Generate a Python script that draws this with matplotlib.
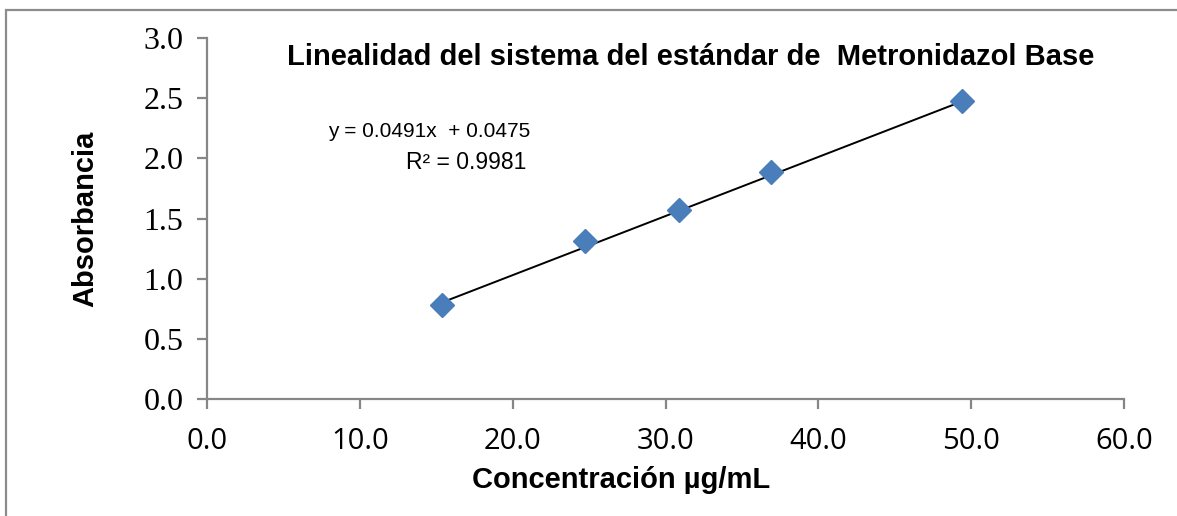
import matplotlib.pyplot as plt
from matplotlib.patches import Rectangle
import numpy as np

# standard curve readings
conc = [15.4, 24.7, 30.9, 36.9, 49.4]
absorb = [0.78, 1.31, 1.57, 1.89, 2.48]
slope = 0.0491
intercept = 0.0475
r2 = 0.9981

xticks = [0, 10, 20, 30, 40, 50, 60]
yticks = [0.0, 0.5, 1.0, 1.5, 2.0, 2.5, 3.0]

fig = plt.figure(figsize=(11.77, 5.16), dpi=100)
ax = fig.add_axes([0.1759, 0.2267, 0.955 - 0.1759, 0.9264 - 0.2267])

gray = '#868686'

# chart frame (runs off the right and bottom edges)
fig.add_artist(Rectangle((6 / 1177, -0.05), 1.2, (516 - 10) / 516 + 0.05,
                         transform=fig.transFigure, fill=False,
                         edgecolor='#8c8c8c', linewidth=1.6))

# trendline from first to last point
xf = np.array([conc[0], conc[-1]])
ax.plot(xf, slope * xf + intercept, color='black', linewidth=1.4, zorder=2)
ax.plot(conc, absorb, linestyle='none', marker='D', markersize=12,
        color='#4a7ebb', markeredgecolor='#4a7ebb', zorder=3)

ax.set_xlim(0, 60)
ax.set_ylim(0, 3.0)
ax.set_xticks(xticks)
ax.set_yticks(yticks)
ax.set_xticklabels(['%.1f' % v for v in xticks], family='Open Sans', fontsize=21)
ax.set_yticklabels(['%.1f' % v for v in yticks], family='Liberation Serif', fontsize=23)

for s in ['top', 'right']:
    ax.spines[s].set_visible(False)
for s in ['left', 'bottom']:
    ax.spines[s].set_color(gray)
    ax.spines[s].set_linewidth(1.6)
ax.tick_params(axis='both', direction='out', length=7, width=1.6, color=gray)
ax.tick_params(axis='x', pad=13)
ax.tick_params(axis='y', pad=10)

ax.set_xlabel('Concentración µg/mL', family='Liberation Sans', fontweight='bold',
              fontsize=21, labelpad=2)
ax.xaxis.set_label_coords(0.452, -0.185)
ax.set_ylabel('Absorbancia', family='Liberation Sans', fontweight='bold',
              fontsize=21, labelpad=32)

ax.text(0.527, 0.947, 'Linealidad del sistema del estándar de  Metronidazol Base',
        transform=ax.transAxes, ha='center', va='center', family='Liberation Sans',
        fontweight='bold', fontsize=21)

# trendline equation, right-aligned like the spreadsheet label
ax.text(0.352, 0.741, 'y = %.4fx  + %.4f' % (slope, intercept),
        transform=ax.transAxes, ha='right', va='center', family='Liberation Sans',
        fontsize=15)
ax.text(0.348, 0.656, 'R² = %.4f' % r2,
        transform=ax.transAxes, ha='right', va='center', family='Liberation Sans',
        fontsize=16.5)

fig.savefig('out.png', dpi=100)
